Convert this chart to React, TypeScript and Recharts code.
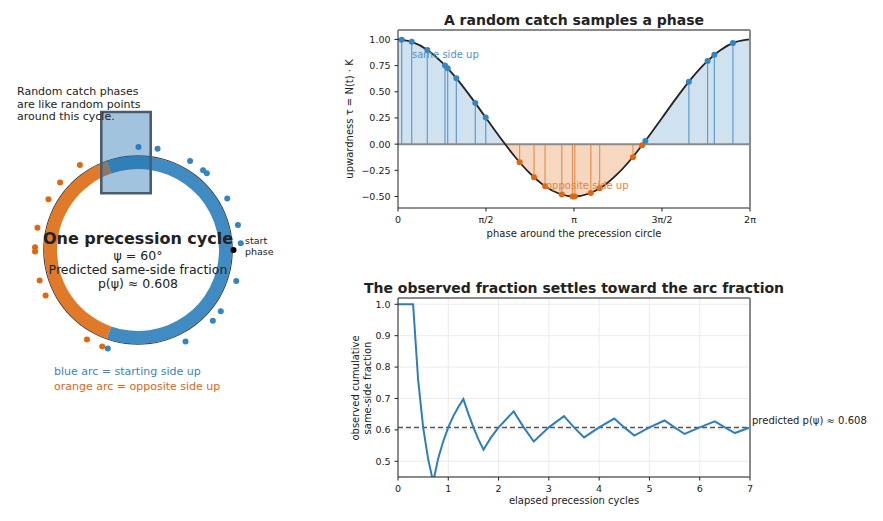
import React from 'react';
import {
  ComposedChart,
  Area,
  Line,
  Scatter,
  XAxis,
  YAxis,
  ReferenceLine,
  ReferenceArea,
  CartesianGrid,
  PieChart,
  Pie,
  Cell,
  ScatterChart,
} from 'recharts';

const FONT = '"DejaVu Sans", Verdana, sans-serif';
const PI = Math.PI;

// ---------- data ----------
const predictedFraction = 0.608;
const arcNames = ['same side up', 'opposite side up'];
const arcShares = [0.608, 0.392];

// smooth curve: phase in steps of π/12
const curveStep = [0, 1, 2, 3, 4, 5, 6, 7, 8, 9, 10, 11, 12, 13, 14, 15, 16, 17, 18, 19, 20, 21, 22, 23, 24];
const curveTau = [
  1.0, 0.974, 0.9, 0.78, 0.625, 0.444, 0.25, 0.056, -0.125, -0.28, -0.4, -0.474, -0.5,
  -0.474, -0.4, -0.28, -0.125, 0.056, 0.25, 0.444, 0.625, 0.78, 0.9, 0.974, 1.0,
];

// random catch samples (phase in radians, upwardness)
const samplePhase = [
  0.066, 0.245, 0.523, 0.839, 0.887, 1.041, 1.38, 1.566, 2.17, 2.428, 2.625, 2.924, 3.115,
  3.156, 3.442, 3.599, 4.194, 4.358, 4.415, 5.192, 5.526, 5.646, 5.978,
];
const sampleTau = [
  0.998, 0.978, 0.9, 0.751, 0.724, 0.629, 0.392, 0.254, -0.172, -0.317, -0.403, -0.482, -0.5,
  -0.5, -0.466, -0.422, -0.125, -0.011, 0.03, 0.595, 0.794, 0.853, 0.965,
];

const phaseTicks = [0, PI / 2, PI, (3 * PI) / 2, 2 * PI];
const phaseTickLabels = ['0', 'π/2', 'π', '3π/2', '2π'];
const tauTicks = [-0.5, -0.25, 0, 0.25, 0.5, 0.75, 1.0];
const tauDomain = [-0.61, 1.09];

// cumulative observed fraction
const elapsedCycles = [
  0, 0.3, 0.4, 0.5, 0.6, 0.7, 0.8, 0.9, 1.0, 1.1, 1.2, 1.3, 1.4, 1.5, 1.6, 1.7, 1.85, 2.0, 2.3,
  2.5, 2.7, 3.0, 3.3, 3.5, 3.7, 4.0, 4.3, 4.5, 4.7, 5.0, 5.3, 5.5, 5.7, 6.0, 6.3, 6.5, 6.7, 7.0,
];
const observedFraction = [
  1.0, 1.0, 0.76, 0.608, 0.507, 0.434, 0.51, 0.564, 0.608, 0.644, 0.673, 0.698, 0.651, 0.608,
  0.57, 0.537, 0.576, 0.608, 0.659, 0.608, 0.563, 0.608, 0.644, 0.608, 0.576, 0.608, 0.636,
  0.608, 0.582, 0.608, 0.63, 0.608, 0.587, 0.608, 0.627, 0.608, 0.59, 0.608,
];
const elapsedTicks = [0, 1, 2, 3, 4, 5, 6, 7];
const fractionTicks = [0.5, 0.6, 0.7, 0.8, 0.9, 1.0];
const fractionDomain = [0.45, 1.02];

// left panel geometry (in pixel-like units around the circle centre, y up)
const dotRadius = 103;
const startPhase = 0;
const startRadius = 95.5;
const windowBox = { x1: -36.7, x2: 12.7, y1: 56.7, y2: 138 };

// ---------- colours ----------
const SAME = '#3585c1';
const OPP = '#e0660f';
const SAME_RING = '#3f8bc2';
const OPP_RING = '#e07a28';
const SAME_FILL = '#d0e2f0';
const OPP_FILL = '#f6d7bf';

// ---------- derived tables ----------
const curveData = curveStep.map((k, i) => ({ phase: (k * PI) / 12, tau: curveTau[i] }));
const samples = samplePhase.map((p, i) => ({ phase: p, tau: sampleTau[i], same: sampleTau[i] >= 0 }));
const circleDots = samples.map((s) => ({
  x: dotRadius * Math.cos(s.phase),
  y: dotRadius * Math.sin(s.phase),
  same: s.same,
}));
const startDot = [{ x: startRadius * Math.cos(startPhase), y: startRadius * Math.sin(startPhase) }];
const fractionData = elapsedCycles.map((t, i) => ({ t, f: observedFraction[i] }));
const arcData = arcNames.map((n, i) => ({ name: n, value: arcShares[i] }));
const tauMax = Math.max(...curveTau);
const tauMin = Math.min(...curveTau);
const zeroOffset = tauMax / (tauMax - tauMin);

const fmtTau = (v: number) => (v < 0 ? '−' : '') + Math.abs(v).toFixed(2);
const fmtPhase = (v: number) => {
  const i = phaseTicks.findIndex((t) => Math.abs(t - v) < 1e-6);
  return i >= 0 ? phaseTickLabels[i] : '';
};

const tickStyle = { fontSize: 9.5, fill: '#222', fontFamily: FONT };

type TxtProps = {
  x: number;
  y: number;
  size?: number;
  bold?: boolean;
  color?: string;
  anchor?: 'start' | 'middle' | 'end';
  rotate?: number;
  lh?: number | string;
  children: React.ReactNode;
};
const Txt = ({ x, y, size = 10, bold = false, color = '#222', anchor = 'middle', rotate = 0, lh = 1, children }: TxtProps) => {
  const tx = anchor === 'middle' ? '-50%' : anchor === 'end' ? '-100%' : '0%';
  return (
    <div
      style={{
        position: 'absolute',
        left: x,
        top: y,
        transform: `translate(${tx}, -50%) rotate(${rotate}deg)`,
        fontFamily: FONT,
        fontSize: size,
        fontWeight: bold ? 'bold' : 'normal',
        color,
        whiteSpace: 'nowrap',
        lineHeight: lh,
        textAlign: anchor === 'middle' ? 'center' : anchor === 'end' ? 'right' : 'left',
      }}
    >
      {children}
    </div>
  );
};

const dotShape = (r: number) => (props: any) => {
  const { cx, cy, payload } = props;
  if (cx == null || cy == null) return <g />;
  const fill = payload && payload.same === false ? OPP : payload && payload.same === true ? SAME : '#000';
  return <circle cx={cx} cy={cy} r={r} fill={fill} />;
};

const LeftPanel = () => (
  <>
    <div style={{ position: 'absolute', left: -12, top: 100, width: 300, height: 300 }}>
      <PieChart width={300} height={300} margin={{ top: 0, right: 0, bottom: 0, left: 0 }}>
        <Pie
          data={[{ value: 1 }]}
          dataKey="value"
          cx={150}
          cy={150}
          innerRadius={93.6}
          outerRadius={94.8}
          fill="#3a3f44"
          stroke="none"
          isAnimationActive={false}
        />
        <Pie
          data={arcData}
          dataKey="value"
          cx={150}
          cy={150}
          innerRadius={81}
          outerRadius={94}
          startAngle={-arcShares[0] * 180}
          endAngle={360 - arcShares[0] * 180}
          stroke="none"
          isAnimationActive={false}
        >
          <Cell fill={SAME_RING} />
          <Cell fill={OPP_RING} />
        </Pie>
      </PieChart>
    </div>
    <div style={{ position: 'absolute', left: -12, top: 100, width: 300, height: 300 }}>
      <ScatterChart width={300} height={300} margin={{ top: 0, right: 0, bottom: 0, left: 0 }}>
        <XAxis dataKey="x" type="number" domain={[-150, 150]} hide allowDataOverflow />
        <YAxis dataKey="y" type="number" domain={[-150, 150]} hide allowDataOverflow />
        <Scatter data={circleDots} shape={dotShape(3)} isAnimationActive={false} />
        <Scatter data={startDot} shape={dotShape(3)} isAnimationActive={false} />
        <ReferenceArea
          x1={windowBox.x1}
          x2={windowBox.x2}
          y1={windowBox.y1}
          y2={windowBox.y2}
          fill="#1f6fae"
          fillOpacity={0.42}
          stroke="#4b5c6b"
          strokeWidth={2.6}
          strokeOpacity={1}
          ifOverflow="visible"
          {...({ zIndex: 1000 } as any)}
        />
      </ScatterChart>
    </div>
    <Txt x={17} y={105} size={11} anchor="start" lh="12.5px">
      Random catch phases
      <br />
      are like random points
      <br />
      around this cycle.
    </Txt>
    <Txt x={138} y={238.5} size={16} bold>One precession cycle</Txt>
    <Txt x={138} y={269.5} size={12.5} lh="14px">
      ψ = 60°
      <br />
      Predicted same-side fraction
      <br />
      p(ψ) ≈ {predictedFraction.toFixed(3)}
    </Txt>
    <Txt x={245} y={247} size={9.5} anchor="start" lh="10.8px">
      start
      <br />
      phase
    </Txt>
    <Txt x={54} y={370.7} size={11} anchor="start" color={SAME}>blue arc = starting side up</Txt>
    <Txt x={54} y={385.7} size={11} anchor="start" color={OPP}>orange arc = opposite side up</Txt>
  </>
);

const TopChart = () => (
  <>
    <div style={{ position: 'absolute', left: 330, top: 0, width: 470, height: 250 }}>
      <ComposedChart width={470} height={250} data={curveData} margin={{ top: 30, right: 50, bottom: 12, left: 8 }}>
        <defs>
          <linearGradient id="tauFill" x1="0" y1="0" x2="0" y2="1">
            <stop offset={zeroOffset} stopColor={SAME_FILL} />
            <stop offset={zeroOffset} stopColor={OPP_FILL} />
          </linearGradient>
        </defs>
        <XAxis
          dataKey="phase"
          type="number"
          domain={[0, 2 * PI]}
          ticks={phaseTicks}
          tickFormatter={fmtPhase}
          interval={0}
          allowDataOverflow
          height={30}
          tick={tickStyle}
          tickSize={3.5}
          tickMargin={5}
          tickLine={{ stroke: '#222' }}
          axisLine={{ stroke: '#222' }}
        />
        <YAxis
          type="number"
          domain={tauDomain}
          ticks={tauTicks}
          tickFormatter={fmtTau}
          interval={0}
          allowDataOverflow
          width={60}
          tick={tickStyle}
          tickSize={3.5}
          tickMargin={4}
          tickLine={{ stroke: '#222' }}
          axisLine={{ stroke: '#222' }}
        />
        <Area
          dataKey="tau"
          type="monotone"
          baseValue={0}
          stroke="none"
          fill="url(#tauFill)"
          fillOpacity={1}
          isAnimationActive={false}
          {...({ zIndex: 100 } as any)}
        />
        {samples.map((s, i) => (
          <ReferenceLine
            key={`s${i}`}
            segment={[
              { x: s.phase, y: 0 },
              { x: s.phase, y: s.tau },
            ]}
            stroke={s.same ? '#4a91c6' : '#e9843f'}
            strokeOpacity={0.85}
            strokeWidth={1.2}
            {...({ zIndex: 150 } as any)}
          />
        ))}
        <ReferenceLine y={0} stroke="#8a8a8a" strokeWidth={2} {...({ zIndex: 160 } as any)} />
        <Line
          dataKey="tau"
          type="monotone"
          stroke="#222"
          strokeWidth={1.8}
          dot={false}
          activeDot={false}
          isAnimationActive={false}
          {...({ zIndex: 400 } as any)}
        />
        <Scatter data={samples} dataKey="tau" shape={dotShape(3)} isAnimationActive={false} {...({ zIndex: 600 } as any)} />
        <ReferenceLine y={tauDomain[1]} stroke="#8a8a8a" strokeWidth={2} {...({ zIndex: 700 } as any)} />
        <ReferenceLine x={2 * PI} stroke="#8a8a8a" strokeWidth={2} {...({ zIndex: 700 } as any)} />
      </ComposedChart>
    </div>
    <Txt x={574} y={20} size={14} bold>A random catch samples a phase</Txt>
    <Txt x={412} y={54.5} size={10} anchor="start" color="#4d93c7">same side up</Txt>
    <Txt x={546} y={185.5} size={10} anchor="start" color="#e8843f">opposite side up</Txt>
    <Txt x={350} y={119} size={10} rotate={-90}>upwardness  τ = N(t) · K</Txt>
    <Txt x={574} y={233.5} size={10}>phase around the precession circle</Txt>
  </>
);

const BottomChart = () => (
  <>
    <div style={{ position: 'absolute', left: 330, top: 260, width: 553, height: 261 }}>
      <ComposedChart width={553} height={261} data={fractionData} margin={{ top: 38, right: 133, bottom: 14, left: 8 }}>
        <CartesianGrid stroke="#ebebeb" strokeWidth={1} />
        <XAxis
          dataKey="t"
          type="number"
          domain={[0, 7]}
          ticks={elapsedTicks}
          interval={0}
          allowDataOverflow
          height={30}
          tick={tickStyle}
          tickSize={3.5}
          tickMargin={5}
          tickLine={{ stroke: '#222' }}
          axisLine={{ stroke: '#222' }}
        />
        <YAxis
          type="number"
          domain={fractionDomain}
          ticks={fractionTicks}
          tickFormatter={(v: number) => v.toFixed(1)}
          interval={0}
          allowDataOverflow
          width={60}
          tick={tickStyle}
          tickSize={3.5}
          tickMargin={4}
          tickLine={{ stroke: '#222' }}
          axisLine={{ stroke: '#222' }}
        />
        <ReferenceLine
          y={predictedFraction}
          stroke="#555"
          strokeWidth={1.5}
          strokeDasharray="5 3"
          {...({ zIndex: 300 } as any)}
        />
        <Line
          dataKey="f"
          type="linear"
          stroke="#2f7ebc"
          strokeWidth={2}
          dot={false}
          activeDot={false}
          isAnimationActive={false}
          {...({ zIndex: 400 } as any)}
        />
        <ReferenceLine y={fractionDomain[1]} stroke="#222" strokeWidth={1} {...({ zIndex: 700 } as any)} />
        <ReferenceLine x={7} stroke="#8a8a8a" strokeWidth={2} {...({ zIndex: 700 } as any)} />
      </ComposedChart>
    </div>
    <Txt x={574} y={288.3} size={14} bold>The observed fraction settles toward the arc fraction</Txt>
    <Txt x={361} y={387.5} size={10} rotate={-90} lh="11.5px">
      observed cumulative
      <br />
      same-side fraction
    </Txt>
    <Txt x={574} y={501} size={10}>elapsed precession cycles</Txt>
    <Txt x={752} y={421} size={10} anchor="start">predicted p(ψ) ≈ {predictedFraction.toFixed(3)}</Txt>
  </>
);

export default function App() {
  return (
    <div
      style={{
        position: 'absolute',
        left: 0,
        top: 0,
        width: 883,
        height: 521,
        background: '#fff',
        overflow: 'hidden',
        fontFamily: FONT,
      }}
    >
      <LeftPanel />
      <TopChart />
      <BottomChart />
    </div>
  );
}
